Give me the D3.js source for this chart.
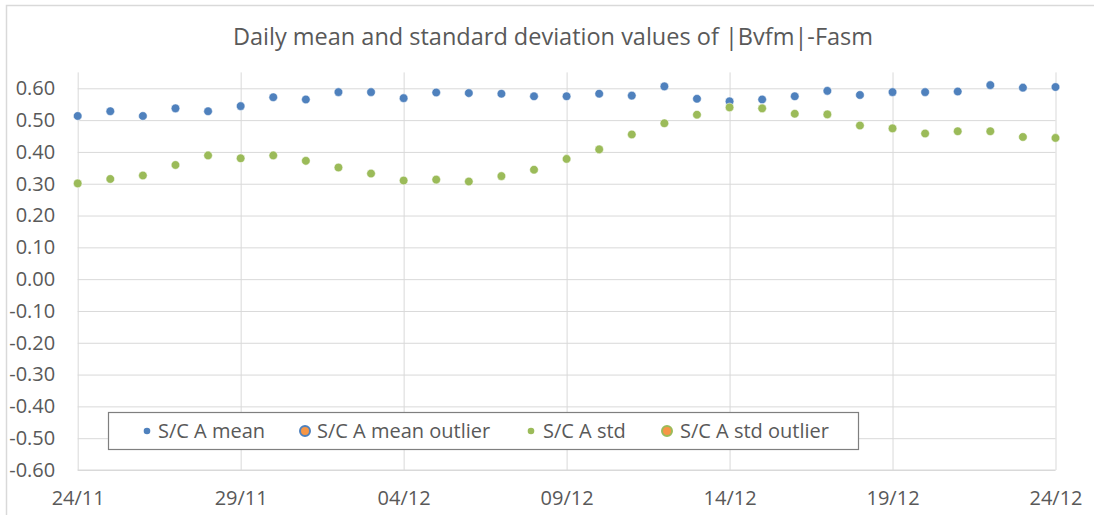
<!DOCTYPE html>
<html>
<head>
<meta charset="utf-8">
<script src="https://cdn.jsdelivr.net/npm/d3@7"></script>
<style>
    body { margin: 0; background: #fff; }
    text { font-family: "Segoe UI", "Open Sans", "Noto Sans", sans-serif; fill: #595959; }
</style>
</head>
<body>
<svg id="chart" width="1094" height="515"></svg>
<script>
// daily values, 24/11 .. 24/12
const days = [
    '2020-11-24', '2020-11-25', '2020-11-26', '2020-11-27', '2020-11-28', '2020-11-29', '2020-11-30',
    '2020-12-01', '2020-12-02', '2020-12-03', '2020-12-04', '2020-12-05', '2020-12-06', '2020-12-07',
    '2020-12-08', '2020-12-09', '2020-12-10', '2020-12-11', '2020-12-12', '2020-12-13', '2020-12-14',
    '2020-12-15', '2020-12-16', '2020-12-17', '2020-12-18', '2020-12-19', '2020-12-20', '2020-12-21',
    '2020-12-22', '2020-12-23', '2020-12-24'
];
const meanValues = [
    0.513, 0.528, 0.513, 0.537, 0.528, 0.544, 0.572, 0.565, 0.588, 0.588, 0.569,
    0.587, 0.585, 0.583, 0.575, 0.575, 0.583, 0.577, 0.606, 0.567, 0.559,
    0.565, 0.575, 0.592, 0.579, 0.588, 0.588, 0.590, 0.610, 0.602, 0.604
];
const stdValues = [
    0.301, 0.315, 0.326, 0.359, 0.389, 0.380, 0.389, 0.372, 0.351, 0.332, 0.310,
    0.313, 0.307, 0.324, 0.344, 0.378, 0.408, 0.455, 0.490, 0.517, 0.540,
    0.537, 0.520, 0.518, 0.483, 0.474, 0.458, 0.465, 0.465, 0.447, 0.444
];
// no outliers on this period
const meanOutliers = [];
const stdOutliers = [];

const yTicks = [0.6, 0.5, 0.4, 0.3, 0.2, 0.1, 0, -0.1, -0.2, -0.3, -0.4, -0.5, -0.6];
const xTickDays = ['2020-11-24', '2020-11-29', '2020-12-04', '2020-12-09', '2020-12-14', '2020-12-19', '2020-12-24'];

const BLUE = '#4f81bd';
const GREEN = '#9bbb59';
const ORANGE = '#f79646';
const GRID = '#d9d9d9';

const parse = d3.utcParse('%Y-%m-%d');
const fmt = d3.utcFormat('%d/%m');

const svg = d3.select('#chart');

// chart frame
svg.append('rect')
    .attr('x', 6.5).attr('y', 5.5)
    .attr('width', 1200).attr('height', 600)
    .attr('fill', '#fff')
    .attr('stroke', GRID)
    .attr('stroke-width', 1.5);

const x = d3.scaleUtc()
    .domain([parse(days[0]), parse(days[days.length - 1])])
    .range([77.7, 1055.5]);
const y = d3.scaleLinear()
    .domain([-0.6, 0.65])
    .range([470, 72.4]);

// horizontal grid + y labels
const yAxis = d3.axisLeft(y)
    .tickValues(yTicks)
    .tickSize(-(x.range()[1] - x.range()[0]))
    .tickPadding(22.5)
    .tickFormat(d3.format('.2f'));
const gy = svg.append('g')
    .attr('transform', `translate(${x.range()[0]},0)`)
    .call(yAxis);
gy.select('.domain').remove();
gy.selectAll('line').attr('stroke', GRID);
gy.selectAll('text')
    .attr('font-size', 20)
    .attr('fill', '#595959')
    .text(d => d3.format('.2f')(d).replace('−', '-'));

// vertical grid + x labels
const xAxis = d3.axisBottom(x)
    .tickValues(xTickDays.map(parse))
    .tickSize(-(y.range()[0] - y.range()[1]))
    .tickPadding(20.5)
    .tickFormat(fmt);
const gx = svg.append('g')
    .attr('transform', `translate(0,${y.range()[0]})`)
    .call(xAxis);
gx.select('.domain').remove();
gx.selectAll('line').attr('stroke', GRID);
gx.selectAll('text')
    .attr('font-size', 20)
    .attr('fill', '#595959');

// bottom edge of plot area
svg.append('line')
    .attr('x1', x.range()[0]).attr('x2', x.range()[1])
    .attr('y1', y(-0.6)).attr('y2', y(-0.6))
    .attr('stroke', GRID);

function drawSeries(values, color, cls) {
    svg.append('g').attr('class', cls)
        .selectAll('circle')
        .data(values)
        .join('circle')
        .attr('cx', (d, i) => x(parse(days[i])))
        .attr('cy', d => y(d))
        .attr('r', 4.3)
        .attr('fill', color)
        .attr('stroke', '#fff')
        .attr('stroke-width', 0.5);
}

function drawOutliers(items, color, cls) {
    svg.append('g').attr('class', cls)
        .selectAll('circle')
        .data(items)
        .join('circle')
        .attr('cx', d => x(parse(d.day)))
        .attr('cy', d => y(d.value))
        .attr('r', 4.5)
        .attr('fill', ORANGE)
        .attr('stroke', color)
        .attr('stroke-width', 2);
}

drawSeries(meanValues, BLUE, 'mean');
drawOutliers(meanOutliers, BLUE, 'mean-outlier');
drawSeries(stdValues, GREEN, 'std');
drawOutliers(stdOutliers, GREEN, 'std-outlier');

// title
svg.append('text')
    .attr('x', 553).attr('y', 45)
    .attr('text-anchor', 'middle')
    .attr('font-size', 23.5)
    .text('Daily mean and standard deviation values of |Bvfm|-Fasm');

// legend
const legend = svg.append('g');
legend.append('rect')
    .attr('x', 108.5).attr('y', 412.5)
    .attr('width', 750).attr('height', 37)
    .attr('fill', '#fff')
    .attr('stroke', '#7f7f7f')
    .attr('stroke-width', 1.2);

const legendItems = [
    { label: 'S/C A mean', color: BLUE, outlier: false, mx: 147, tx: 158 },
    { label: 'S/C A mean outlier', color: BLUE, outlier: true, mx: 305, tx: 317 },
    { label: 'S/C A std', color: GREEN, outlier: false, mx: 531, tx: 543 },
    { label: 'S/C A std outlier', color: GREEN, outlier: true, mx: 667, tx: 680 }
];
legendItems.forEach(item => {
    if (item.outlier) {
        legend.append('circle')
            .attr('cx', item.mx).attr('cy', 431)
            .attr('r', 5)
            .attr('fill', ORANGE)
            .attr('stroke', item.color)
            .attr('stroke-width', 2);
    } else {
        legend.append('circle')
            .attr('cx', item.mx).attr('cy', 431)
            .attr('r', 3.3)
            .attr('fill', item.color);
    }
    legend.append('text')
        .attr('x', item.tx).attr('y', 438)
        .attr('font-size', 20)
        .text(item.label);
});
</script>
</body>
</html>
